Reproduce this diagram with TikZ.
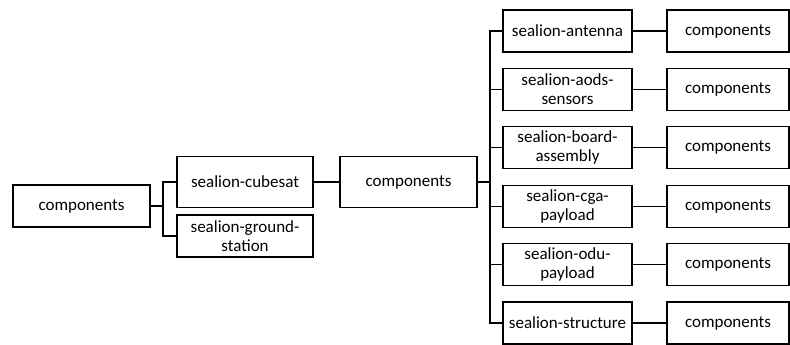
\documentclass[tikz,border=0pt]{standalone}
\usepackage{fontspec}
\setmainfont{Carlito}
\tikzset{
    box/.style={draw, line width=1.1pt, minimum height=42pt, inner sep=1pt,
        align=center, font=\fontsize{17}{19}\selectfont},
    link/.style={line width=1.1pt}
}
\begin{document}
\begin{tikzpicture}[x=1pt,y=-1pt]
    \useasboundingbox (0,0) rectangle (790,345);
    %root
    \node[box, minimum width=137pt] (root) at (81.5,206) {components};
    \coordinate (j1) at (163,206);
    %second level
    \node[box, minimum width=136pt, minimum height=51pt] (cubesat) at (245,182) {sealion-cubesat};
    \node[box, minimum width=136pt] (ground) at (245,236) {sealion-ground-\\station};
    \draw[link] (root) -- (j1);
    \draw[link] (j1) |- (cubesat);
    \draw[link] (j1) |- (ground);
    %cubesat parts
    \node[box, minimum width=137pt, minimum height=51pt] (parts) at (408.5,182) {components};
    \draw[link] (cubesat) -- (parts);
    \coordinate (j2) at (490,182);
    \draw[link] (parts) -- (j2);
    %right column
    \foreach \n/\t [count=\i] in {ant/{sealion-antenna}, aods/{sealion-aods-\\sensors},
        board/{sealion-board-\\assembly}, cga/{sealion-cga-\\payload},
        odu/{sealion-odu-\\payload}, struct/{sealion-structure}}
    {
        \pgfmathsetmacro{\my}{31+58.4*(\i-1)}
        \node[box, minimum width=129pt] (\n) at (567.5,\my) {\t};
        \node[box, minimum width=122pt] (\n comp) at (728,\my) {components};
        \draw[link] (\n) -- (\n comp);
        \draw[link] (j2) |- (\n);
    }
\end{tikzpicture}
\end{document}
